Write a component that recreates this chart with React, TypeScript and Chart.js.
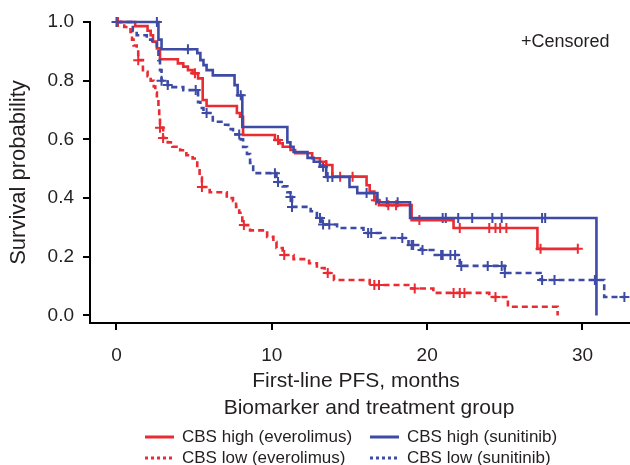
import React, { useEffect, useRef } from 'react';
import { Chart, registerables } from 'chart.js';

Chart.register(...registerables);

const FONT = '"Liberation Sans", Arial, Helvetica, sans-serif';
const RED = '#EA2B32';
const BLUE = '#3D4BA6';
const TEXT = '#231F20';

const xTicks = [0, 10, 20, 30];
const yTicks = [0, 0.2, 0.4, 0.6, 0.8, 1.0];

const xTitle = 'First-line PFS, months';
const yTitle = 'Survival probability';
const legendTitle = 'Biomarker and treatment group';
const censoredLabel = '+Censored';

// CBS high (everolimus)
const highEveTimes = [0, 1.2, 2.0, 2.2, 2.35, 2.6, 2.8, 3.95, 4.3, 4.6, 4.9, 5.25, 5.55, 5.8, 7.75, 7.95, 8.15, 10.2, 10.5, 10.7, 11.2, 11.5, 12.6, 13.1, 13.5, 13.9, 16.1, 16.3, 16.6, 16.9, 19.0, 21.7, 27.1, 29.7];
const highEveSurv = [1.0, 0.986, 0.97, 0.955, 0.933, 0.91, 0.873, 0.859, 0.848, 0.836, 0.825, 0.808, 0.734, 0.714, 0.69, 0.677, 0.615, 0.598, 0.587, 0.575, 0.564, 0.553, 0.536, 0.524, 0.513, 0.473, 0.444, 0.422, 0.393, 0.376, 0.325, 0.298, 0.227, 0.227];
const highEveCens = [5.05, 10.4, 13.5, 14.4, 15.2, 16.7, 17.5, 18.0, 19.5, 22.1, 24.0, 24.4, 24.7, 25.1, 27.3, 29.7];

// CBS high (sunitinib)
const highSunTimes = [0, 2.7, 2.9, 5.2, 5.4, 5.6, 5.8, 6.2, 7.6, 7.8, 8.1, 11.0, 11.2, 11.4, 12.3, 12.7, 13.1, 13.5, 15.0, 15.5, 16.8, 18.9, 30.9];
const highSunSurv = [1.0, 0.94, 0.907, 0.894, 0.87, 0.853, 0.836, 0.818, 0.785, 0.75, 0.642, 0.59, 0.575, 0.557, 0.537, 0.524, 0.507, 0.472, 0.438, 0.417, 0.386, 0.332, 0.0];
const highSunCens = [2.6, 4.6, 8.0, 13.3, 13.6, 13.9, 16.1, 17.4, 18.1, 21.0, 21.2, 22.0, 22.9, 24.2, 24.8, 27.4, 27.6];

// CBS low (everolimus)
const lowEveTimes = [0, 0.5, 0.9, 1.0, 1.1, 1.3, 1.4, 1.7, 2.0, 2.2, 2.4, 2.5, 2.6, 2.7, 2.75, 2.8, 3.0, 3.3, 3.6, 4.1, 4.5, 4.9, 5.2, 5.35, 5.5, 6.0, 7.1, 7.5, 7.7, 7.9, 8.1, 8.6, 9.7, 10.1, 10.3, 10.7, 11.4, 12.4, 12.9, 13.4, 14.0, 16.3, 19.0, 20.4, 24.0, 25.2, 28.4];
const lowEveSurv = [1.0, 0.983, 0.966, 0.94, 0.92, 0.905, 0.87, 0.83, 0.815, 0.8, 0.78, 0.76, 0.735, 0.707, 0.68, 0.64, 0.605, 0.59, 0.575, 0.563, 0.546, 0.535, 0.5, 0.47, 0.438, 0.42, 0.4, 0.39, 0.37, 0.35, 0.308, 0.29, 0.268, 0.25, 0.23, 0.206, 0.192, 0.178, 0.162, 0.145, 0.121, 0.104, 0.092, 0.077, 0.063, 0.03, 0.0];
const lowEveCens = [0.1, 1.4, 2.8, 3.0, 5.5, 8.2, 10.8, 13.6, 16.6, 16.9, 19.2, 21.7, 22.1, 22.4, 24.4];

// CBS low (sunitinib)
const lowSunTimes = [0, 1.05, 1.3, 1.95, 2.3, 2.6, 2.7, 2.8, 2.9, 3.3, 3.6, 4.3, 5.25, 5.4, 5.6, 6.2, 6.9, 7.2, 7.5, 8.0, 8.15, 8.4, 8.6, 8.8, 10.3, 10.7, 11.0, 11.2, 11.3, 12.5, 12.9, 13.2, 14.2, 15.9, 17.0, 18.8, 19.6, 20.4, 22.1, 25.0, 27.3, 31.4, 32.7];
const lowSunSurv = [1.0, 0.97, 0.955, 0.94, 0.928, 0.9, 0.87, 0.836, 0.8, 0.785, 0.778, 0.768, 0.727, 0.707, 0.69, 0.66, 0.65, 0.635, 0.617, 0.6, 0.574, 0.55, 0.52, 0.485, 0.455, 0.44, 0.42, 0.404, 0.37, 0.355, 0.332, 0.31, 0.298, 0.281, 0.264, 0.24, 0.223, 0.206, 0.169, 0.145, 0.121, 0.063, 0.063];
const lowSunCens = [0, 2.9, 3.3, 5.1, 5.8, 7.9, 10.2, 10.4, 11.2, 11.3, 13.1, 13.3, 13.7, 16.2, 16.4, 18.4, 19.0, 19.1, 19.7, 20.9, 21.0, 21.5, 21.8, 22.2, 23.9, 24.8, 25.0, 27.4, 28.2, 30.8, 32.7];

const legendItems = [
  { label: 'CBS high (everolimus)', color: RED, dashed: false },
  { label: 'CBS high (sunitinib)', color: BLUE, dashed: false },
  { label: 'CBS low (everolimus)', color: RED, dashed: true },
  { label: 'CBS low (sunitinib)', color: BLUE, dashed: true },
];

function stepAt(times: number[], surv: number[], t: number) {
  let v = surv[0];
  for (let i = 0; i < times.length; i++) if (times[i] <= t) v = surv[i];
  return v;
}
const curve = (times: number[], surv: number[]) => times.map((t, i) => ({ x: t, y: surv[i] }));
const marks = (times: number[], surv: number[], cens: number[]) => cens.map((t) => ({ x: t, y: stepAt(times, surv, t) }));

const lineDs = (times: number[], surv: number[], color: string, dashed: boolean) => ({
  type: 'line' as const,
  data: curve(times, surv),
  borderColor: color,
  backgroundColor: color,
  borderWidth: 2.6,
  borderDash: dashed ? [6, 4] : [],
  stepped: true,
  pointRadius: 0,
  fill: false,
  clip: false as any,
});
const censDs = (times: number[], surv: number[], cens: number[], color: string) => ({
  type: 'line' as const,
  data: marks(times, surv, cens),
  showLine: false,
  borderColor: color,
  backgroundColor: color,
  pointStyle: 'cross',
  pointRadius: 5,
  pointBorderWidth: 2,
  clip: false as any,
});

const annotate = {
  id: 'annotate',
  afterDraw(chart: any) {
    const ctx = chart.ctx;
    ctx.save();
    ctx.fillStyle = TEXT;
    ctx.textBaseline = 'middle';
    ctx.textAlign = 'center';
    ctx.font = `21px ${FONT}`;
    ctx.fillText(xTitle, 356, 381);
    ctx.fillText(legendTitle, 369, 408);
    legendItems.forEach((it, i) => {
      const col = i % 2;
      const row = Math.floor(i / 2);
      const lx = col === 0 ? 145 : 370;
      const y = row === 0 ? 437 : 458;
      ctx.strokeStyle = it.color;
      ctx.lineWidth = 3;
      ctx.setLineDash(it.dashed ? [3, 3] : []);
      ctx.beginPath();
      ctx.moveTo(lx, y);
      ctx.lineTo(lx + 29, y);
      ctx.stroke();
      ctx.setLineDash([]);
      ctx.font = `17px ${FONT}`;
      ctx.textAlign = 'left';
      ctx.fillText(it.label, lx + 37, y);
    });
    ctx.font = `18px ${FONT}`;
    ctx.textAlign = 'left';
    ctx.fillText(censoredLabel, 521, 42);
    ctx.restore();
  },
};

export default function App() {
  const ref = useRef<HTMLCanvasElement>(null);
  useEffect(() => {
    if (!ref.current) return;
    const chart = new Chart(ref.current, {
      type: 'line',
      data: {
        datasets: [
          lineDs(lowSunTimes, lowSunSurv, BLUE, true),
          lineDs(lowEveTimes, lowEveSurv, RED, true),
          lineDs(highSunTimes, highSunSurv, BLUE, false),
          lineDs(highEveTimes, highEveSurv, RED, false),
          censDs(lowSunTimes, lowSunSurv, lowSunCens, BLUE),
          censDs(lowEveTimes, lowEveSurv, lowEveCens, RED),
          censDs(highSunTimes, highSunSurv, highSunCens, BLUE),
          censDs(highEveTimes, highEveSurv, highEveCens, RED),
        ] as any,
      },
      options: {
        responsive: false,
        animation: false,
        events: [],
        layout: { autoPadding: false, padding: { top: 22, left: 0, right: 0, bottom: 0 } },
        plugins: { legend: { display: false }, tooltip: { enabled: false } },
        scales: {
          x: {
            type: 'linear',
            min: -1.706,
            max: 33.06,
            afterBuildTicks: (s: any) => { s.ticks = xTicks.map((v) => ({ value: v })); },
            afterFit: (s: any) => { s.height = 142; },
            ticks: { font: { size: 19, family: FONT }, color: TEXT, padding: 14, maxRotation: 0 },
            grid: { display: true, drawOnChartArea: false, drawTicks: true, tickLength: 7, color: '#000', lineWidth: 2 },
            border: { display: true, color: '#000', width: 2 },
          },
          y: {
            type: 'linear',
            min: -0.0256,
            max: 1.0,
            afterBuildTicks: (s: any) => { s.ticks = yTicks.map((v) => ({ value: v })); },
            afterFit: (s: any) => { s.width = 90; },
            ticks: { font: { size: 19, family: FONT }, color: TEXT, padding: 9, callback: (v: any) => Number(v).toFixed(1) },
            grid: { display: true, drawOnChartArea: false, drawTicks: true, tickLength: 7, color: '#000', lineWidth: 2 },
            border: { display: true, color: '#000', width: 2 },
            title: { display: true, text: yTitle, font: { size: 22, family: FONT }, color: TEXT, padding: { top: 6, bottom: 0 } },
          },
        },
      },
      plugins: [annotate],
    } as any);
    return () => chart.destroy();
  }, []);
  return (
    <div style={{ position: 'absolute', left: 0, top: 0, width: 630, height: 465, background: '#fff' }}>
      <canvas ref={ref} width={630} height={465} style={{ display: 'block' }} />
    </div>
  );
}
